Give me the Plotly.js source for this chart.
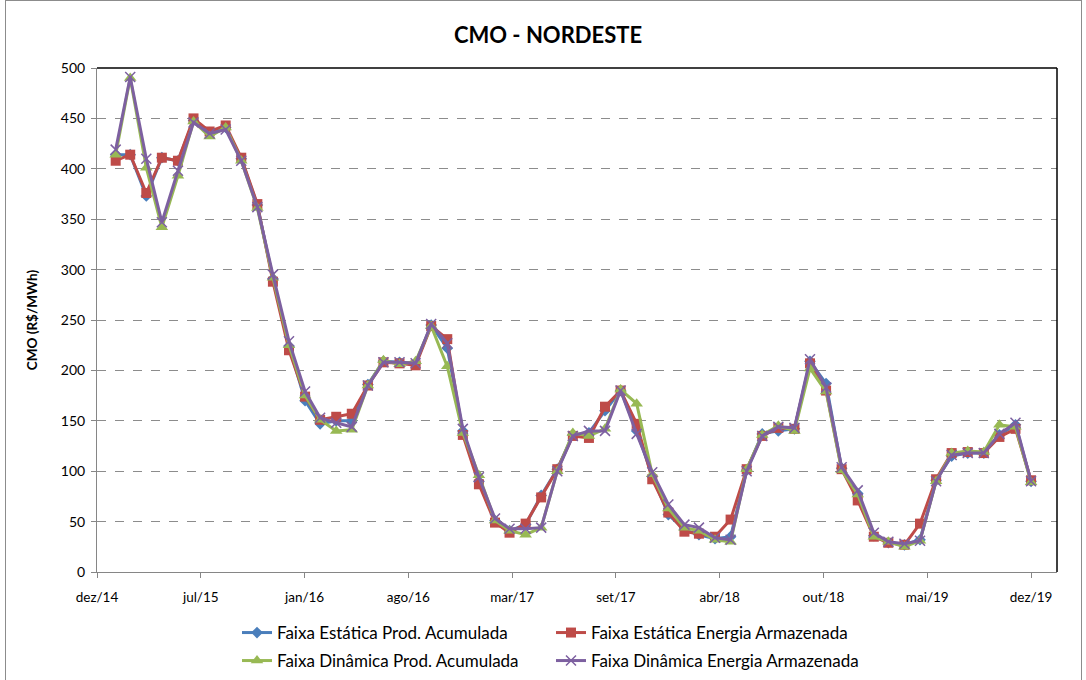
<!DOCTYPE html>
<html>
<head>
<meta charset="utf-8">
<script src="https://cdn.plot.ly/plotly-3.0.1.min.js"></script>
<style>
  html, body { margin: 0; padding: 0; background: #ffffff; }
  #frame { position: absolute; left: 5px; top: 0px; width: 1077px; height: 690px; border: 1px solid #8c8c8c; box-sizing: border-box; }
  #chart { position: absolute; left: 0; top: 0; width: 1086px; height: 680px; }
</style>
</head>
<body>
<div id="frame"></div>
<div id="chart"></div>
<script>
// Months (first day of each month), fev/15 .. dez/19
const months = [
  '2015-02-01','2015-03-01','2015-04-01','2015-05-01','2015-06-01','2015-07-01','2015-08-01','2015-09-01','2015-10-01','2015-11-01','2015-12-01',
  '2016-01-01','2016-02-01','2016-03-01','2016-04-01','2016-05-01','2016-06-01','2016-07-01','2016-08-01','2016-09-01','2016-10-01','2016-11-01','2016-12-01',
  '2017-01-01','2017-02-01','2017-03-01','2017-04-01','2017-05-01','2017-06-01','2017-07-01','2017-08-01','2017-09-01','2017-10-01','2017-11-01','2017-12-01',
  '2018-01-01','2018-02-01','2018-03-01','2018-04-01','2018-05-01','2018-06-01','2018-07-01','2018-08-01','2018-09-01','2018-10-01','2018-11-01','2018-12-01',
  '2019-01-01','2019-02-01','2019-03-01','2019-04-01','2019-05-01','2019-06-01','2019-07-01','2019-08-01','2019-09-01','2019-10-01','2019-11-01','2019-12-01'
];

const estaticaProd = [
  414,414,373,411,408,448,436,441,410,364,291,
  224,170,147,150,150,186,209,208,207,245,222,140,
  90,51,41,47,76,102,136,138,160,180,140,95,
  57,42,37,33,35,101,137,140,142,209,187,103,
  78,36,29,27,32,91,115,118,118,136,146,90
];
const estaticaEnergia = [
  408,414,376,411,408,450,437,443,411,365,288,
  220,174,151,154,157,185,208,207,205,244,231,136,
  87,49,39,48,74,102,135,133,164,180,147,92,
  59,40,38,35,52,102,135,143,142,207,180,102,
  71,35,29,27,48,92,118,119,118,134,142,91
];
const dinamicaProd = [
  414,490,401,342,393,447,432,441,408,361,292,
  225,175,151,140,141,185,210,206,209,244,204,138,
  96,51,41,37,44,100,138,135,142,181,167,97,
  63,44,41,32,30,102,136,145,140,202,179,101,
  77,35,30,25,31,90,118,120,119,146,144,89
];
const dinamicaEnergia = [
  419,491,410,347,398,446,435,439,408,362,295,
  229,179,153,148,144,185,208,208,207,246,227,142,
  94,53,43,43,44,100,135,140,140,180,137,99,
  67,47,44,34,32,100,135,144,143,211,183,104,
  81,39,30,28,31,90,116,118,118,137,148,90
];

const seriesNames = [
  'Faixa Estática Prod. Acumulada',
  'Faixa Estática Energia Armazenada',
  'Faixa Dinâmica Prod. Acumulada',
  'Faixa Dinâmica Energia Armazenada'
];
const tickLabels = ['dez/14','jul/15','jan/16','ago/16','mar/17','set/17','abr/18','out/18','mai/19','dez/19'];

// Excel serial date helpers (axis min 42000, major unit 200 days)
const DAY = 86400000;
function serialToDate(s) { return new Date((s - 25569) * DAY).toISOString().slice(0, 10); }
const tickVals = tickLabels.map((_, k) => serialToDate(42000 + 200 * k));

const FONT = 'Lato, "Open Sans", sans-serif';

const traces = [
  { x: months, y: estaticaProd, name: seriesNames[0], type: 'scatter', mode: 'lines+markers',
    line: { color: '#4A7EBB', width: 3 },
    marker: { symbol: 'diamond', size: 9, color: '#4A7EBB' }, legend: 'legend' },
  { x: months, y: estaticaEnergia, name: seriesNames[1], type: 'scatter', mode: 'lines+markers',
    line: { color: '#BE4B48', width: 3 },
    marker: { symbol: 'square', size: 10, color: '#BE4B48' }, legend: 'legend' },
  { x: months, y: dinamicaProd, name: seriesNames[2], type: 'scatter', mode: 'lines+markers',
    line: { color: '#98B954', width: 3 },
    marker: { symbol: 'triangle-up', size: 11, color: '#98B954' }, legend: 'legend2' },
  { x: months, y: dinamicaEnergia, name: seriesNames[3], type: 'scatter', mode: 'lines+markers',
    line: { color: '#7D60A0', width: 3 },
    marker: { symbol: 'x-thin', size: 10, color: '#7D60A0', line: { color: '#7D60A0', width: 1.5 } }, legend: 'legend2' }
];

const legendCommon = {
  orientation: 'h', xref: 'paper', yref: 'paper', xanchor: 'left', yanchor: 'middle',
  font: { family: FONT, size: 17, color: '#000000' },
  entrywidth: 269, entrywidthmode: 'pixels', bgcolor: 'rgba(0,0,0,0)', traceorder: 'normal'
};

const layout = {
  width: 1086, height: 680,
  margin: { l: 97, r: 29, t: 68, b: 108, autoexpand: false },
  paper_bgcolor: 'rgba(0,0,0,0)', plot_bgcolor: '#ffffff',
  font: { family: FONT, size: 12, color: '#000000' },
  title: { text: '<b>CMO - NORDESTE</b>', font: { family: FONT, size: 22, color: '#000000' },
           xref: 'container', x: 548 / 1086, y: 1 - 35 / 680, yanchor: 'middle', xanchor: 'center' },
  xaxis: {
    type: 'date', range: [serialToDate(42000), serialToDate(43850)],
    tickvals: tickVals, ticktext: tickLabels, tickmode: 'array',
    showgrid: false, zeroline: false,
    showline: true, linecolor: '#868686', linewidth: 1,
    ticks: 'outside', ticklen: 5, tickcolor: '#868686',
    ticklabelstandoff: 8,
    tickfont: { family: FONT, size: 13.5, color: '#000000' }
  },
  yaxis: {
    range: [0, 500], tickmode: 'linear', tick0: 0, dtick: 50,
    showgrid: true, gridcolor: '#8c8c8c', griddash: 'dash', gridwidth: 1,
    zeroline: false, showline: true, linecolor: '#868686', linewidth: 1,
    ticks: 'outside', ticklen: 5, tickcolor: '#868686',
    ticklabelstandoff: 3,
    tickfont: { family: FONT, size: 14, color: '#000000' },
    title: { text: '<b>CMO (R$/MWh)</b>', font: { family: FONT, size: 13.5, color: '#000000' }, standoff: 20 }
  },
  shapes: [
    { type: 'line', xref: 'paper', yref: 'paper', x0: 0, x1: 1, y0: 1, y1: 1, line: { color: '#000000', width: 1.5 } },
    { type: 'line', xref: 'paper', yref: 'paper', x0: 1, x1: 1, y0: 0, y1: 1, line: { color: '#000000', width: 1.5 } }
  ],
  legend: Object.assign({}, legendCommon, { x: (237 - 97) / 960, y: (572 - 633) / 504 }),
  legend2: Object.assign({}, legendCommon, { x: (237 - 97) / 960, y: (572 - 661) / 504 }),
  showlegend: true
};

Plotly.newPlot('chart', traces, layout, { displayModeBar: false, staticPlot: true });
</script>
</body>
</html>
